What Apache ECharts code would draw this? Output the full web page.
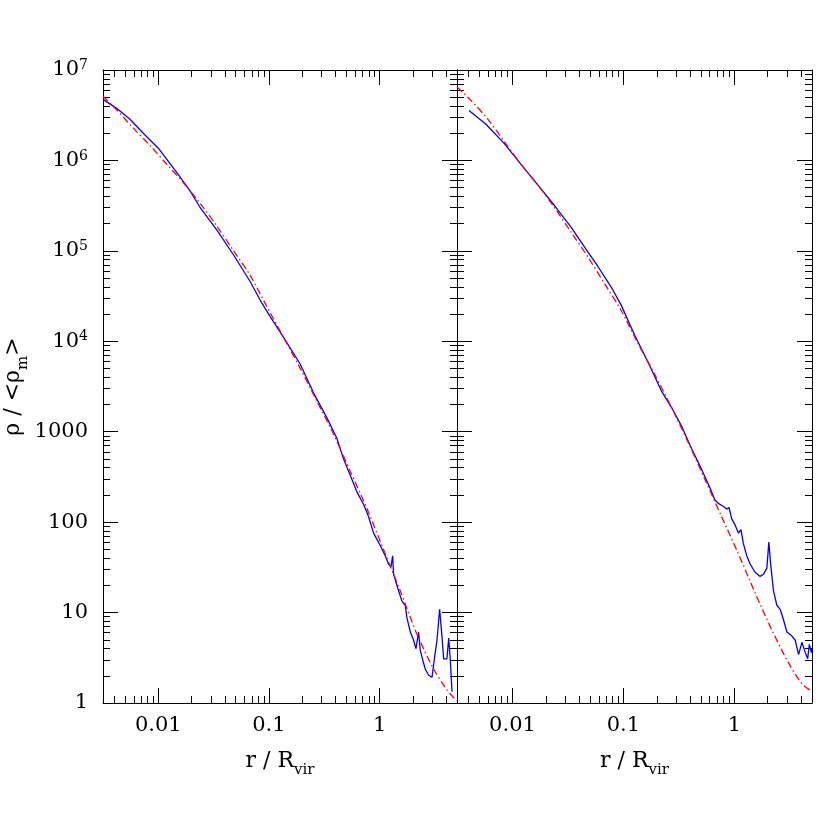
<!DOCTYPE html>
<html>
<head>
<meta charset="utf-8">
<script src="https://cdn.jsdelivr.net/npm/echarts@6/dist/echarts.min.js"></script>
<style>
html, body { margin: 0; padding: 0; background: #fff; }
#chart { width: 830px; height: 830px; }
</style>
</head>
<body>
<div id="chart"></div>
<script>
// all values are log10 (both axes are logarithmic)
var leftBlueLogR = [-2.50, -2.377, -2.256, -2.136, -2.0, -1.834, -1.713, -1.623, -1.472, -1.321, -1.170, -1.065, -0.989, -0.869, -0.718, -0.597, -0.477, -0.386, -0.326, -0.265, -0.205, -0.145, -0.100, -0.054, 0.006, 0.051, 0.081, 0.103, 0.118, 0.127, 0.166, 0.202, 0.232, 0.247, 0.278, 0.308, 0.329, 0.353, 0.368, 0.392, 0.413, 0.443, 0.474, 0.498, 0.519, 0.543, 0.564, 0.579, 0.609, 0.625, 0.640, 0.655];
var leftBlueLogRho = [6.675, 6.576, 6.455, 6.300, 6.135, 5.869, 5.664, 5.482, 5.231, 4.957, 4.661, 4.424, 4.273, 4.045, 3.749, 3.430, 3.156, 2.928, 2.700, 2.518, 2.335, 2.198, 2.062, 1.879, 1.742, 1.628, 1.537, 1.505, 1.628, 1.423, 1.264, 1.127, 1.081, 0.944, 0.785, 0.694, 0.602, 0.785, 0.582, 0.467, 0.376, 0.307, 0.284, 0.511, 0.694, 1.036, 0.740, 0.489, 0.489, 0.717, 0.466, 0.124];

var leftRedLogR = [-2.50, -2.377, -2.226, -2.075, -1.925, -1.774, -1.623, -1.472, -1.321, -1.170, -1.020, -0.869, -0.718, -0.567, -0.416, -0.265, -0.115, 0.036, 0.187, 0.338, 0.489, 0.609, 0.70];
var leftRedLogRho = [6.710, 6.560, 6.357, 6.166, 5.960, 5.755, 5.527, 5.276, 5.003, 4.729, 4.387, 4.045, 3.703, 3.338, 2.974, 2.563, 2.153, 1.697, 1.241, 0.762, 0.376, 0.146, 0.02];

var rightBlueLogR = [-2.392, -2.241, -2.075, -1.925, -1.774, -1.623, -1.472, -1.321, -1.231, -1.110, -1.020, -0.899, -0.779, -0.658, -0.567, -0.477, -0.386, -0.296, -0.220, -0.175, -0.145, -0.100, -0.069, -0.048, -0.024, 0.006, 0.036, 0.060, 0.081, 0.112, 0.142, 0.187, 0.232, 0.262, 0.293, 0.311, 0.329, 0.353, 0.383, 0.413, 0.443, 0.474, 0.519, 0.549, 0.579, 0.609, 0.640, 0.661, 0.676, 0.694, 0.70];
var rightBlueLogRho = [6.553, 6.403, 6.188, 5.960, 5.732, 5.504, 5.262, 4.990, 4.830, 4.600, 4.400, 4.070, 3.770, 3.452, 3.270, 3.065, 2.814, 2.586, 2.381, 2.244, 2.208, 2.176, 2.144, 2.162, 2.039, 1.970, 1.879, 1.916, 1.765, 1.628, 1.537, 1.446, 1.400, 1.423, 1.491, 1.779, 1.514, 1.241, 1.081, 1.036, 0.921, 0.785, 0.740, 0.694, 0.535, 0.671, 0.557, 0.489, 0.649, 0.557, 0.603];

var rightRedLogR = [-2.50, -2.377, -2.226, -2.075, -1.925, -1.774, -1.623, -1.472, -1.321, -1.170, -1.020, -0.869, -0.718, -0.567, -0.416, -0.265, -0.115, 0.036, 0.187, 0.338, 0.489, 0.609, 0.70];
var rightRedLogRho = [6.813, 6.667, 6.462, 6.211, 5.960, 5.732, 5.482, 5.208, 4.934, 4.638, 4.341, 3.977, 3.635, 3.270, 2.882, 2.472, 2.062, 1.651, 1.218, 0.808, 0.443, 0.214, 0.13];

var xTickLabels = ['0.01', '0.1', '1'];
var yTickLabels = ['1', '10', '100', '1000', '10{sup|4}', '10{sup|5}', '10{sup|6}', '10{sup|7}'];

var FONT = 'DejaVu Serif';
var X_MIN = -2.5, X_MAX = 0.7;

// tick positions in log space
var xMajor = [-2, -1, 0];
var xMinor = [];
for (var n = -3; n <= 0; n++) {
  for (var k = 2; k <= 9; k++) {
    var v = n + Math.log10(k);
    if (v > X_MIN && v < X_MAX) xMinor.push(v);
  }
}
var yMajor = [0, 1, 2, 3, 4, 5, 6, 7];
var yMinor = [];
for (var n = 0; n < 7; n++) {
  for (var k = 2; k <= 9; k++) yMinor.push(n + Math.log10(k));
}

function pairs(xs, ys) {
  return xs.map(function (x, i) { return [x, ys[i]]; });
}

var nameRich = {
  n: { fontFamily: FONT, fontSize: 22, color: '#000', verticalAlign: 'bottom', padding: [0, 0, 6, 0] },
  s: { fontFamily: FONT, fontSize: 15, color: '#000', verticalAlign: 'bottom' }
};

function xAx(grid, pos, major, withLabels) {
  var a = {
    type: 'value', gridIndex: grid, position: pos, min: X_MIN, max: X_MAX,
    axisLine: { show: major, onZero: false, lineStyle: { color: '#000', width: 1 } },
    axisTick: { show: true, inside: true, length: major ? 15 : 7,
      customValues: major ? xMajor : xMinor, lineStyle: { color: '#000', width: 1 } },
    axisLabel: { show: false },
    splitLine: { show: false }
  };
  if (withLabels) {
    a.axisLabel = {
      show: true, customValues: xMajor, margin: 12,
      fontFamily: FONT, fontSize: 21, color: '#000',
      formatter: function (v) { return xTickLabels[Math.round(v) + 2]; }
    };
    a.name = '{n|r / R}{s|vir}';
    a.nameLocation = 'middle';
    a.nameGap = 47;
    a.nameTextStyle = { rich: nameRich };
  }
  return a;
}

function yAx(grid, pos, major, withLabels) {
  var a = {
    type: 'value', gridIndex: grid, position: pos, min: 0, max: 7,
    axisLine: { show: major, onZero: false, lineStyle: { color: '#000', width: 1 } },
    axisTick: { show: true, inside: true, length: major ? 15 : 7,
      customValues: major ? yMajor : yMinor, lineStyle: { color: '#000', width: 1 } },
    axisLabel: { show: false },
    splitLine: { show: false }
  };
  if (withLabels) {
    a.axisLabel = {
      show: true, customValues: yMajor, margin: 15,
      fontFamily: FONT, fontSize: 21, color: '#000',
      formatter: function (v) { return yTickLabels[Math.round(v)]; },
      rich: {
        sup: { fontFamily: FONT, fontSize: 14, color: '#000', verticalAlign: 'bottom', padding: [0, 0, 9, 0] }
      }
    };
    a.name = '{n|ρ / <ρ}{s|m}{n|>}';
    a.nameLocation = 'middle';
    a.nameGap = 64;
    a.nameTextStyle = { rich: nameRich };
  }
  return a;
}

var xAxes = [], yAxes = [];
[0, 1].forEach(function (g) {
  xAxes.push(xAx(g, 'bottom', true, true));   // 0 / 4
  xAxes.push(xAx(g, 'bottom', false, false));
  xAxes.push(xAx(g, 'top', true, false));
  xAxes.push(xAx(g, 'top', false, false));
  yAxes.push(yAx(g, 'left', true, g === 0));  // 0 / 4
  yAxes.push(yAx(g, 'left', false, false));
  yAxes.push(yAx(g, 'right', true, false));
  yAxes.push(yAx(g, 'right', false, false));
});

function blue(g, data) {
  return { type: 'line', xAxisIndex: g * 4, yAxisIndex: g * 4, data: data,
    showSymbol: false, lineStyle: { color: '#0000ff', width: 1.3 }, z: 3 };
}
function red(g, data) {
  return { type: 'line', xAxisIndex: g * 4, yAxisIndex: g * 4, data: data, smooth: 0.3,
    showSymbol: false, lineStyle: { color: '#ff0000', width: 1.3, type: [7, 3, 1.5, 3] }, z: 4 };
}

var chart = echarts.init(document.getElementById('chart'), null, { renderer: 'canvas' });
chart.setOption({
  animation: false,
  backgroundColor: '#fff',
  grid: [
    { left: 103, top: 70, width: 354, height: 633, outerBoundsMode: 'none' },
    { left: 457, top: 70, width: 355, height: 633, outerBoundsMode: 'none' }
  ],
  xAxis: xAxes,
  yAxis: yAxes,
  series: [
    red(0, pairs(leftRedLogR, leftRedLogRho)),
    blue(0, pairs(leftBlueLogR, leftBlueLogRho)),
    red(1, pairs(rightRedLogR, rightRedLogRho)),
    blue(1, pairs(rightBlueLogR, rightBlueLogRho))
  ]
});
</script>
</body>
</html>
